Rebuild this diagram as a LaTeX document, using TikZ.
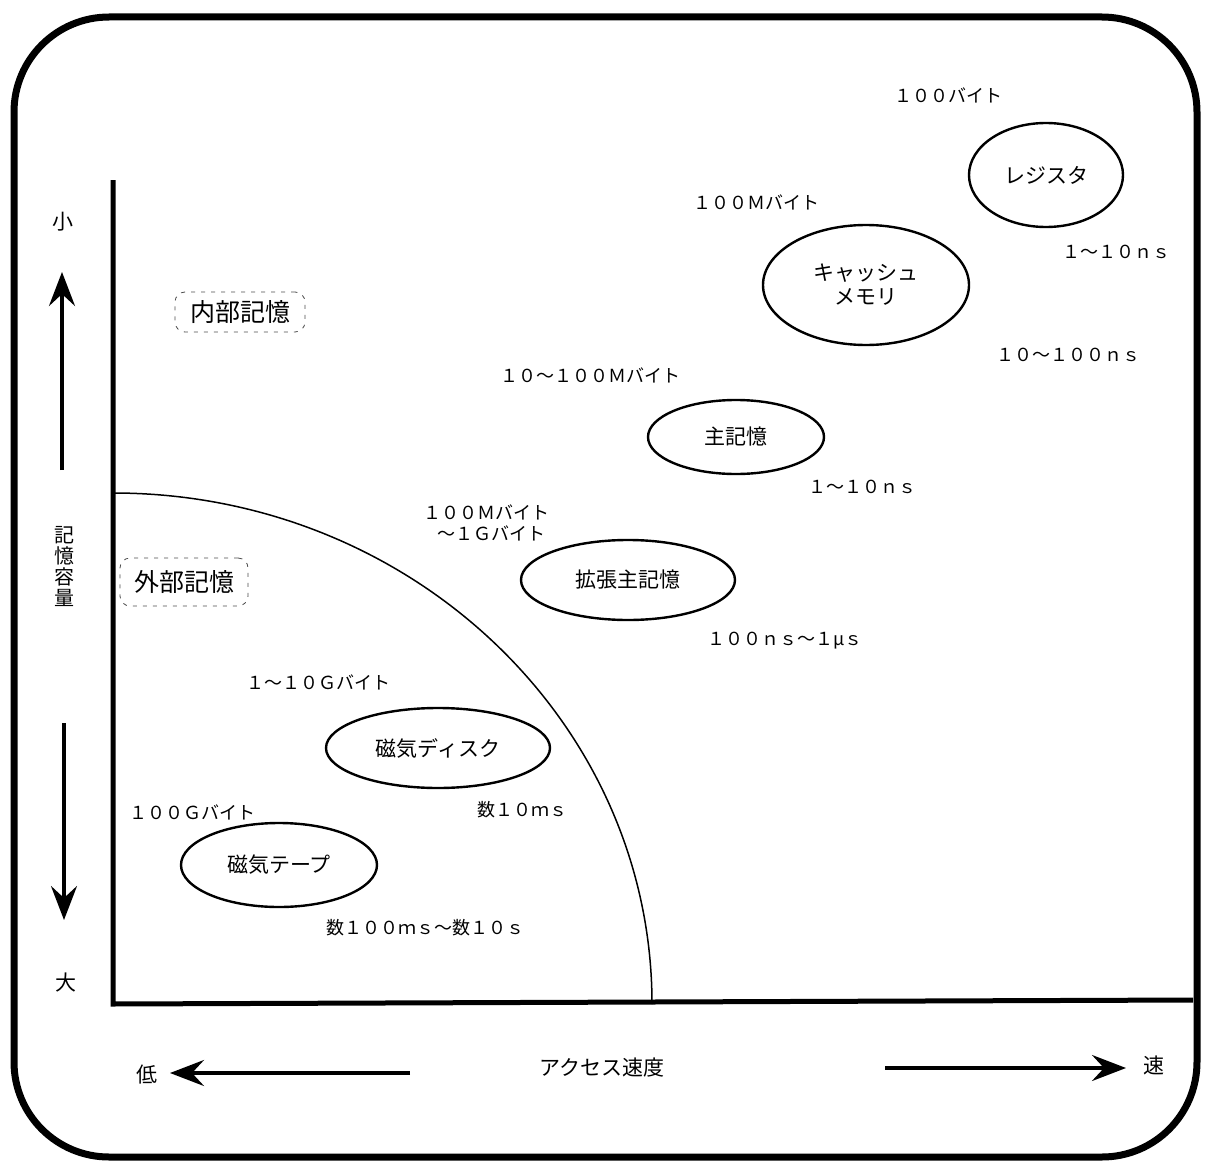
\documentclass[tikz,border=0pt]{standalone}
\usepackage{fontspec}
\setmainfont{Noto Sans CJK JP}
\usetikzlibrary{shapes.geometric,arrows.meta}
\begin{document}
\begin{tikzpicture}[x=1pt,y=-1pt,
  ell/.style={draw,ellipse,line width=2.4pt,inner sep=0pt,font=\fontsize{21}{24}\selectfont,align=center},
  lbl/.style={inner sep=0pt,font=\fontsize{18}{21}\selectfont,align=center},
  side/.style={inner sep=0pt,font=\fontsize{21}{24}\selectfont},
  dbox/.style={draw=black!70,dashed,dash pattern=on 4pt off 6pt,rounded corners=10pt,line width=0.8pt,inner sep=4pt,font=\fontsize{25}{28}\selectfont,minimum height=40pt},
  arr/.style={line width=3.5pt,-{Stealth[length=34pt,width=26pt,inset=12pt]}}]
\useasboundingbox (0,0) rectangle (1211,1164);
% outer frame
\draw[line width=7pt,rounded corners=95pt] (14,17) rectangle (1197,1157);
% axes
\coordinate (ytop) at (113,180);
\coordinate (orig) at (113,1004);
\coordinate (xend) at (1193,1000);
\draw[line width=5pt] (ytop) -- (orig) -- (xend);
% quarter arc
\draw[line width=1.5pt] (113,493) arc[start angle=-90,end angle=0,x radius=539,y radius=511];
% ellipses
\node[ell,minimum width=154,minimum height=104] (reg) at (1046,175) {レジスタ};
\node[ell,minimum width=206,minimum height=120] (cache) at (866,285) {キャッシュ\\メモリ};
\node[ell,minimum width=176,minimum height=74] (main) at (736,437) {主記憶};
\node[ell,minimum width=214,minimum height=80] (ext) at (628,580) {拡張主記憶};
\node[ell,minimum width=224,minimum height=80] (disk) at (438,748) {磁気ディスク};
\node[ell,minimum width=196,minimum height=84] (tape) at (279,865) {磁気テープ};
% labels
\node[lbl] (l1) at (948,95) {１００バイト};
\node[lbl] (l2) at (756,202) {１００Ｍバイト};
\node[lbl] (l3) at (1116,252) {１～１０ｎｓ};
\node[lbl] (l4) at (1068,355) {１０～１００ｎｓ};
\node[lbl] (l5) at (590,375) {１０～１００Ｍバイト};
\node[lbl] (l6) at (862,487) {１～１０ｎｓ};
\node[lbl] (l7) at (486,523) {１００Ｍバイト\\\hspace*{10pt}～１Ｇバイト};
\node[lbl] (l8) at (785,641) {１００ｎｓ～１μｓ};
\node[lbl] (l9) at (318,682) {１～１０Ｇバイト};
\node[lbl] (l10) at (522,810) {数１０ｍｓ};
\node[lbl] (l11) at (192,812) {１００Ｇバイト};
\node[lbl] (l12) at (425,928) {数１００ｍｓ～数１０ｓ};
% dashed boxes
\node[dbox,minimum width=130] (inner) at (240,312) {内部記憶};
\node[dbox,minimum width=128,minimum height=48] (outer) at (184,582) {外部記憶};
% vertical axis labels
\node[side] (small) at (63,222) {小};
\node[side] (big) at (66,983) {大};
\node[inner sep=0pt,font=\fontsize{20}{21}\selectfont,align=center] (cap) at (64,566) {記\\憶\\容\\量};
\coordinate (ua) at (62,470);
\coordinate (ub) at (62,272);
\draw[arr] (ua) -- (ub);
\coordinate (da) at (64,723);
\coordinate (db) at (64,920);
\draw[arr] (da) -- (db);
% horizontal axis labels
\node[side] (low) at (147,1075) {低};
\node[side] (fast) at (1154,1065) {速};
\node[side] (speed) at (602,1068) {アクセス速度};
\coordinate (la) at (410,1073);
\coordinate (lb) at (170,1073);
\draw[arr] (la) -- (lb);
\coordinate (ra) at (885,1068);
\coordinate (rb) at (1126,1068);
\draw[arr] (ra) -- (rb);
\end{tikzpicture}
\end{document}
